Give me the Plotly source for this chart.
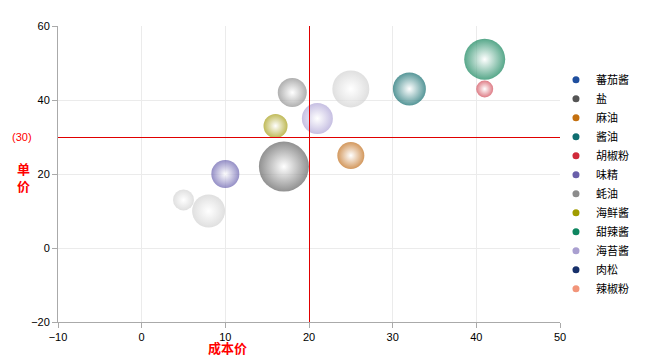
import plotly.graph_objects as go

# ---- data ----
series = ["蕃茄酱", "盐", "麻油", "酱油", "胡椒粉", "味精", "蚝油", "海鲜酱", "甜辣酱", "海苔酱", "肉松", "辣椒粉"]
cost = [25, 17, 25, 32, 41, 10, 18, 16, 41, 21, 5, 8]          # 成本价
price = [43, 22, 25, 43, 43, 20, 42, 33, 51, 35, 13, 10]        # 单价
volume = [37, 50, 27, 33, 17, 28, 29, 24, 41, 31, 21, 33]       # bubble value
avg_cost = 20
avg_price = 30
x_ticks = [-10, 0, 10, 20, 30, 40, 50]
y_ticks = [-20, 0, 20, 40, 60]

# ---- styles ----
legend_colors = ["#1f4f9e", "#555555", "#c4700f", "#0f6e70", "#d02a3a", "#6a60aa",
                 "#8c8c8c", "#a09c00", "#0e8660", "#a99fd0", "#17306a", "#f2957a"]
bubble_colors = ["#d2d2d2", "#626262", "#c06c18", "#0e6a6c", "#d04452", "#6860ae",
                 "#8e8e8e", "#a49c10", "#0f8258", "#aea4d6", "#d2d2d2", "#d2d2d2"]

CJK = "Noto Sans CJK SC"
fig = go.Figure()

for name, cx, py, v, bc in zip(series, cost, price, volume, bubble_colors):
    fig.add_trace(go.Scatter(
        x=[cx], y=[py], mode="markers", name=name, showlegend=False,
        marker=dict(size=[v], sizemode="diameter", sizeref=1, color=bc,
                    gradient=dict(type="radial", color="white"),
                    line=dict(width=0)),
        hoverinfo="x+y+name"))

for name, lc in zip(series, legend_colors):
    fig.add_trace(go.Scatter(
        x=[None], y=[None], mode="markers", name=name,
        marker=dict(size=7, color=lc)))

fig.add_shape(type="line", x0=avg_cost, x1=avg_cost, y0=y_ticks[0], y1=y_ticks[-1],
              xref="x", yref="y", line=dict(color="#e00000", width=1), layer="above")
fig.add_shape(type="line", x0=x_ticks[0], x1=x_ticks[-1], y0=avg_price, y1=avg_price,
              xref="x", yref="y", line=dict(color="#e00000", width=1), layer="above")

fig.add_annotation(text=f"({avg_price})", xref="paper", yref="y", x=-0.072, y=avg_price,
                   showarrow=False, font=dict(color="#ff0000", size=11, family="Liberation Sans"),
                   xanchor="center", yanchor="middle")
fig.add_annotation(text="<b>单<br>价</b>", xref="paper", yref="paper", x=-0.068, y=0.49,
                   showarrow=False, font=dict(color="#ff0000", size=13, family=CJK),
                   xanchor="center", yanchor="middle")
fig.add_annotation(text="<b>成本价</b>", xref="paper", yref="paper", x=0.337, y=-0.086,
                   showarrow=False, font=dict(color="#ff0000", size=13, family=CJK),
                   xanchor="center", yanchor="middle")

axis_common = dict(showgrid=True, gridcolor="#ebebeb", gridwidth=1, zeroline=False,
                   showline=True, linecolor="#aaaaaa", linewidth=1, automargin=False,
                   ticks="outside", ticklen=5, tickcolor="#aaaaaa",
                   tickfont=dict(size=11, color="#000000", family="Liberation Sans"))

# the page body adds an 8px margin, so the figure is 8px smaller than the window
fig.update_layout(
    width=645, height=350,
    margin=dict(l=50, r=93, t=18, b=36, autoexpand=False),
    plot_bgcolor="white", paper_bgcolor="white",
    xaxis=dict(range=[x_ticks[0], x_ticks[-1]], tickvals=x_ticks, **axis_common),
    yaxis=dict(range=[y_ticks[0], y_ticks[-1]], tickvals=y_ticks, **axis_common),
    legend=dict(x=0.992, y=0.867, xanchor="left", yanchor="top",
                font=dict(size=11, family=CJK, color="#000000"),
                itemsizing="trace", tracegroupgap=0, itemwidth=30,
                bgcolor="rgba(0,0,0,0)"),
    showlegend=True,
)

fig.write_html(
    "out.html",
    post_script="document.querySelectorAll('.shapelayer path').forEach(function(p){p.style.shapeRendering='crispEdges';});",
)
